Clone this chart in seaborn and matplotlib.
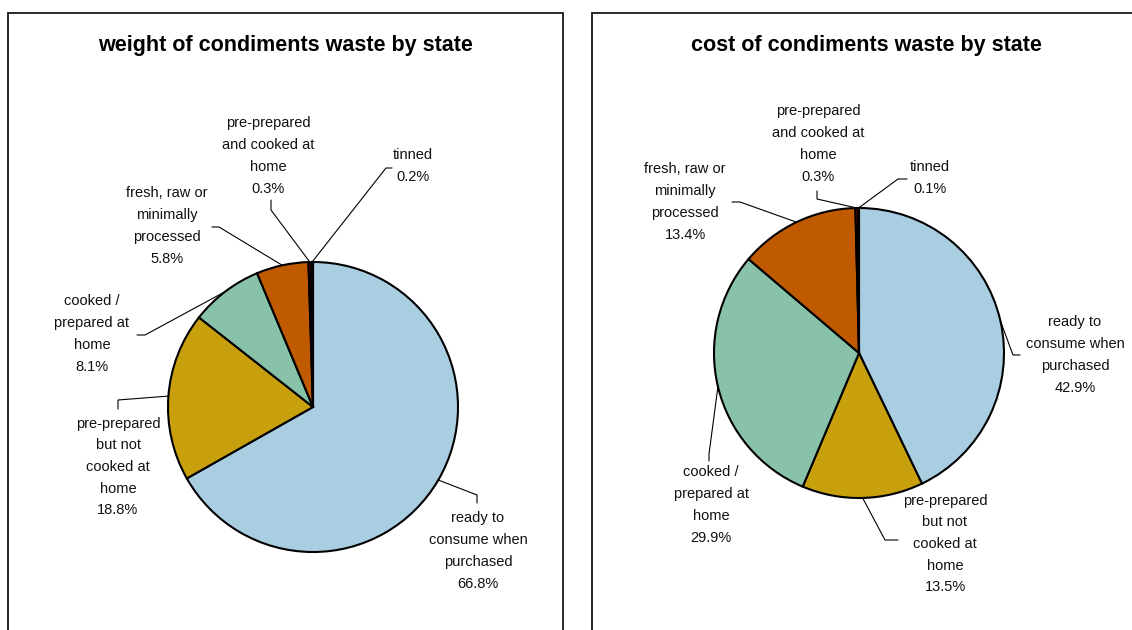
import matplotlib
matplotlib.use("Agg")
import matplotlib.pyplot as plt
import seaborn as sns
import numpy as np
from matplotlib.patches import Rectangle

categories = ["ready to\nconsume when\npurchased",
              "pre-prepared\nbut not\ncooked at\nhome",
              "cooked /\nprepared at\nhome",
              "fresh, raw or\nminimally\nprocessed",
              "pre-prepared\nand cooked at\nhome",
              "tinned"]
weight_pct = [66.8, 18.8, 8.1, 5.8, 0.3, 0.2]
cost_pct = [42.9, 13.5, 29.9, 13.4, 0.3, 0.1]
titles = ["weight of condiments waste by state", "cost of condiments waste by state"]

sns.set_theme(style="white")
plt.rcParams["font.family"] = ["Liberation Sans", "DejaVu Sans"]

colors = ["#a9cde1", "#c8a00e", "#88c3a9", "#c05a00", "#8b0000", "#000000"]

W, H = 1132, 630

# layout in pixels (x, y from top-left)
panels = [
    dict(box=(8, 13, 555), title=(286, 46), center=(313, 407), r=145,
         text=[(478, 551), (118, 467), (92, 334), (167, 226), (268, 156), (413, 166)],
         stub=[[(477, 503), (477, 495)], [(118, 409), (118, 400)], [(137, 335), (145, 335)],
               [(212, 227), (219, 227)], [(271, 200), (271, 210)], [(392, 168), (386, 168)]]),
    dict(box=(592, 13, 560), title=(866, 46), center=(859, 353), r=145,
         text=[(1075, 355), (945, 544), (711, 505), (685, 202), (818, 144), (930, 178)],
         stub=[[(1020, 355), (1013, 355)], [(898, 540), (885, 540)], [(709, 461), (709, 454)],
               [(732, 202), (740, 202)], [(817, 191), (817, 199)], [(907, 179), (898, 179)]]),
]
datasets = [weight_pct, cost_pct]

fig = plt.figure(figsize=(W / 100, H / 100), dpi=100)
ax = fig.add_axes([0, 0, 1, 1])

for p, vals, title in zip(panels, datasets, titles):
    bx, by, bw = p["box"]
    ax.add_patch(Rectangle((bx, -80), bw, H + 80 - by, fill=False,
                           edgecolor="#1a1a1a", linewidth=1.3))
    ax.text(p["title"][0], H - p["title"][1], title, ha="center", va="center",
            fontsize=15.5, fontweight="bold", color="black")

    cx, cy = p["center"]
    wedges, _ = ax.pie(vals, colors=colors, startangle=90, counterclock=False,
                       center=(cx, H - cy), radius=p["r"], frame=True,
                       wedgeprops=dict(edgecolor="black", linewidth=1.5))

    for w, cat, v, tpos, st in zip(wedges, categories, vals, p["text"], p["stub"]):
        mid = np.deg2rad((w.theta1 + w.theta2) / 2)
        ex = w.center[0] + w.r * np.cos(mid)
        ey = w.center[1] + w.r * np.sin(mid)
        ax.plot([st[0][0], st[1][0], ex], [H - st[0][1], H - st[1][1], ey],
                color="black", linewidth=0.8, solid_joinstyle="miter")
        ax.text(tpos[0], H - tpos[1], f"{cat}\n{v:.1f}%", ha="center", va="center",
                fontsize=10.5, linespacing=1.7, color="#111111")

ax.set_xlim(0, W)
ax.set_ylim(0, H)
ax.set_aspect("auto")
ax.set_axis_off()

fig.savefig("out.png", dpi=100, facecolor="white")
